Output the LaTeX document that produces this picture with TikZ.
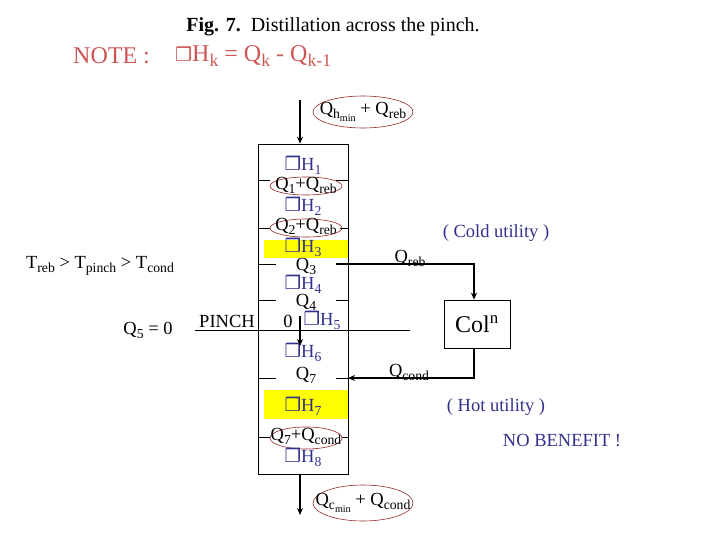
\documentclass[tikz,border=0pt]{standalone}
\usepackage{fontspec}
\setmainfont{Liberation Serif}
\newfontfamily\symf{DejaVu Sans}
\usetikzlibrary{arrows.meta,shapes.geometric}
\definecolor{hblue}{RGB}{50,50,140}
\definecolor{nred}{RGB}{205,85,85}
\definecolor{ered}{RGB}{150,40,40}
\definecolor{hyel}{RGB}{255,255,0}
\newcommand{\dbox}{{\symf\char"2752}}
\makeatletter
\newcommand{\sbx}[1]{\raisebox{-0.22em}{\fontsize{\dimexpr0.74\dimexpr\f@size pt\relax}{1pt}\selectfont #1}}
\makeatother
\begin{document}
\begin{tikzpicture}[x=1pt,y=-1pt,
  t/.style={font=\fontsize{18.5}{19}\selectfont, inner sep=0pt},
  dh/.style={t, text=hblue},
  ell/.style={draw=ered, ellipse, line width=0.6pt},
  ln/.style={line width=0.7pt},
  ar/.style={line width=1.3pt, -{Stealth[length=7pt,width=6pt]}}]
\useasboundingbox (0,0) rectangle (720,540);
\fill[hyel] (264,240) rectangle (348,258);
\fill[hyel] (264,390) rectangle (348,419);
\node[draw, ln, minimum width=90, minimum height=330, inner sep=0pt] (col) at (303,309) {};
\node[t, font=\fontsize{20}{21}\selectfont] (title) at (333,27) {\textbf{Fig. 7.}\ \ Distillation across the pinch.};
\node[t, text=nred, font=\fontsize{24}{25}\selectfont, anchor=west] (note) at (73,56) {NOTE :};
\node[t, text=nred, font=\fontsize{24}{25}\selectfont, anchor=west] (noteeq) at (175,56) {{\fontsize{19}{19}\symf\char"2752}H\sbx{k} = Q\sbx{k} - Q\sbx{k-1}};
\coordinate (tin) at (300,100);
\coordinate (bout) at (300,515);
\draw[ar] (tin) -- (col.north -| tin);
\draw[ar] (col.south -| bout) -- (bout);
\node[ell, minimum width=100, minimum height=32] (qh) at (363,112) {};
\node[t] (qhl) at (363,112) {Q\sbx{h\sbx{min}} + Q\sbx{reb}};
\node[ell, minimum width=100, minimum height=36] (qc) at (363,503) {};
\node[t] (qcl) at (363,503) {Q\sbx{c\sbx{min}} + Q\sbx{cond}};
\node[dh] (h1) at (303,165) {\dbox H\sbx{1}};
\node[ell, minimum width=72, minimum height=18] (e1) at (306,186) {};
\node[t] (q1) at (306,185) {Q\sbx{1}+Q\sbx{reb}};
\node[dh] (h2) at (303,206) {\dbox H\sbx{2}};
\node[ell, minimum width=72, minimum height=18] (e2) at (306,228) {};
\node[t] (q2) at (306,226) {Q\sbx{2}+Q\sbx{reb}};
\node[dh] (h3) at (303,247) {\dbox H\sbx{3}};
\node[t] (q3) at (306,266) {Q\sbx{3}};
\node[dh] (h4) at (303,284) {\dbox H\sbx{4}};
\node[t] (q4) at (306,302) {Q\sbx{4}};
\node[t] (zero) at (288,321) {0};
\node[dh] (h5) at (322,320) {\dbox H\sbx{5}};
\node[dh] (h6) at (303,352) {\dbox H\sbx{6}};
\node[t] (q7) at (306,375) {Q\sbx{7}};
\node[dh] (h7) at (303,406) {\dbox H\sbx{7}};
\node[ell, minimum width=72, minimum height=22] (e7) at (306,438) {};
\node[t] (q7c) at (306,436) {Q\sbx{7}+Q\sbx{cond}};
\node[dh] (h8) at (303,457) {\dbox H\sbx{8}};
\draw[ln] (258,180) -- (270,180) (336,180) -- (348,180);
\draw[ln] (258,228) -- (270,228) (340,228) -- (348,228);
\draw[ln] (258,264) -- (276,264);
\draw[ln] (258,300) -- (276,300) (336,300) -- (348,300);
\draw[ln] (258,378) -- (276,378) (336,378) -- (348,378);
\draw[ln] (258,437) -- (270,437) (342,437) -- (348,437);
\coordinate (pl) at (195,330);
\coordinate (pr) at (410,330);
\draw[ln] (pl) -- (pr);
\coordinate (pa) at (300,316);
\coordinate (pb) at (300,346);
\draw[ar] (pa) -- (pb);
\node[t] (pinch) at (227,321) {PINCH};
\node[t] (q5) at (148,330) {Q\sbx{5} = 0};
\node[t] (temp) at (100,266) {T\sbx{reb} > T\sbx{pinch} > T\sbx{cond}};
\node[draw, ln, minimum width=66, minimum height=48, inner sep=0pt, font=\fontsize{24}{25}\selectfont] (coln) at (477,324) {Col\textsuperscript{n}};
\coordinate (qrs) at (336,264);
\coordinate (qcs) at (348,378);
\draw[line width=1.1pt, -{Stealth[length=7pt,width=6pt]}] (qrs) -| (coln.north -| 474,0);
\draw[line width=1.1pt, -{Stealth[length=7pt,width=6pt]}] (coln.south -| 474,0) |- (qcs);
\node[t] (qreb) at (410,258) {Q\sbx{reb}};
\node[t] (qcond) at (409,372) {Q\sbx{cond}};
\node[t, text=hblue] (cold) at (496,233) {( Cold utility )};
\node[t, text=hblue] (hot) at (496,407) {( Hot utility )};
\node[t, text=hblue] (nb) at (562,441) {NO BENEFIT !};
\end{tikzpicture}
\end{document}
